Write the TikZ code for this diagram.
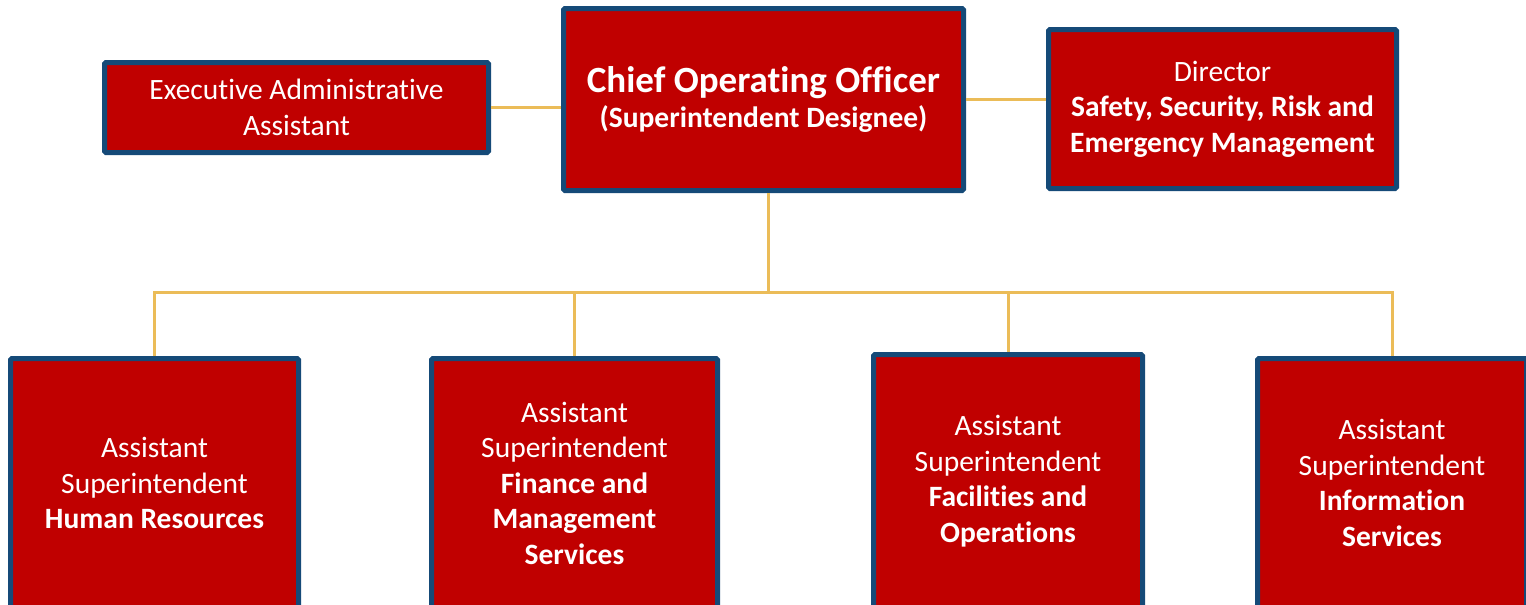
\documentclass[tikz,border=0pt]{standalone}
\usepackage{fontspec}
\setmainfont[Ligatures=NoCommon]{Carlito}
\definecolor{boxred}{HTML}{C00000}
\definecolor{boxnavy}{HTML}{154A78}
\definecolor{linkgold}{HTML}{EBBC58}
\begin{document}
\begin{tikzpicture}[
  x=1pt, y=1pt,
  unit/.style={rectangle, draw=boxnavy, fill=boxred, line width=5pt, rounded corners=1.5pt, inner sep=0pt, align=center, text=white, font=\fontsize{29.5}{35.5}\selectfont},
  link/.style={draw=linkgold, line width=3pt},
  node distance=420pt
]
\useasboundingbox (0,0) rectangle (1526,-605);

\node[unit, minimum width=400pt, minimum height=182pt] (coo) at (763.5,-99.5)
  {{\fontsize{37}{42}\selectfont\bfseries Chief Operating Officer}\\\textbf{(Superintendent Designee)}};
\node[unit, minimum width=384pt, minimum height=90pt, left of=coo, node distance=467pt, yshift=-8pt] (exec)
  {Executive Administrative\\Assistant};
\node[unit, minimum width=348pt, minimum height=159pt, right of=coo, node distance=459pt, yshift=-9.5pt] (dir)
  {Director\\\textbf{Safety, Security, Risk and}\\\textbf{Emergency Management}};

\node[unit, minimum width=288pt, minimum height=249pt] (hr) at (154.5,-483)
  {Assistant\\Superintendent\\\textbf{Human Resources}};
\node[unit, minimum width=286pt, minimum height=249pt, right of=hr] (fin)
  {Assistant\\Superintendent\\\textbf{Finance and}\\\textbf{Management}\\\textbf{Services}};
\node[unit, minimum width=269pt, minimum height=253pt, right of=fin, node distance=433.5pt, yshift=2pt] (fac)
  {Assistant\\Superintendent\\\textbf{Facilities and}\\\textbf{Operations}};
\node[unit, minimum width=269pt, minimum height=249pt, right of=fac, node distance=384pt, yshift=-2pt] (info)
  {Assistant\\Superintendent\\\textbf{Information}\\\textbf{Services}};

\coordinate (bus) at (768,-292);

\draw[link] (exec.east) -- (exec.east -| coo.west);
\draw[link] (coo.east) -- (coo.east -| dir.west);
\draw[link] (coo.south -| bus) -- (bus);
\draw[link] (hr.north) |- (bus) -| (info.north);
\draw[link] (fin.north) -- (fin.north |- bus);
\draw[link] (fac.north) -- (fac.north |- bus);
\end{tikzpicture}
\end{document}
